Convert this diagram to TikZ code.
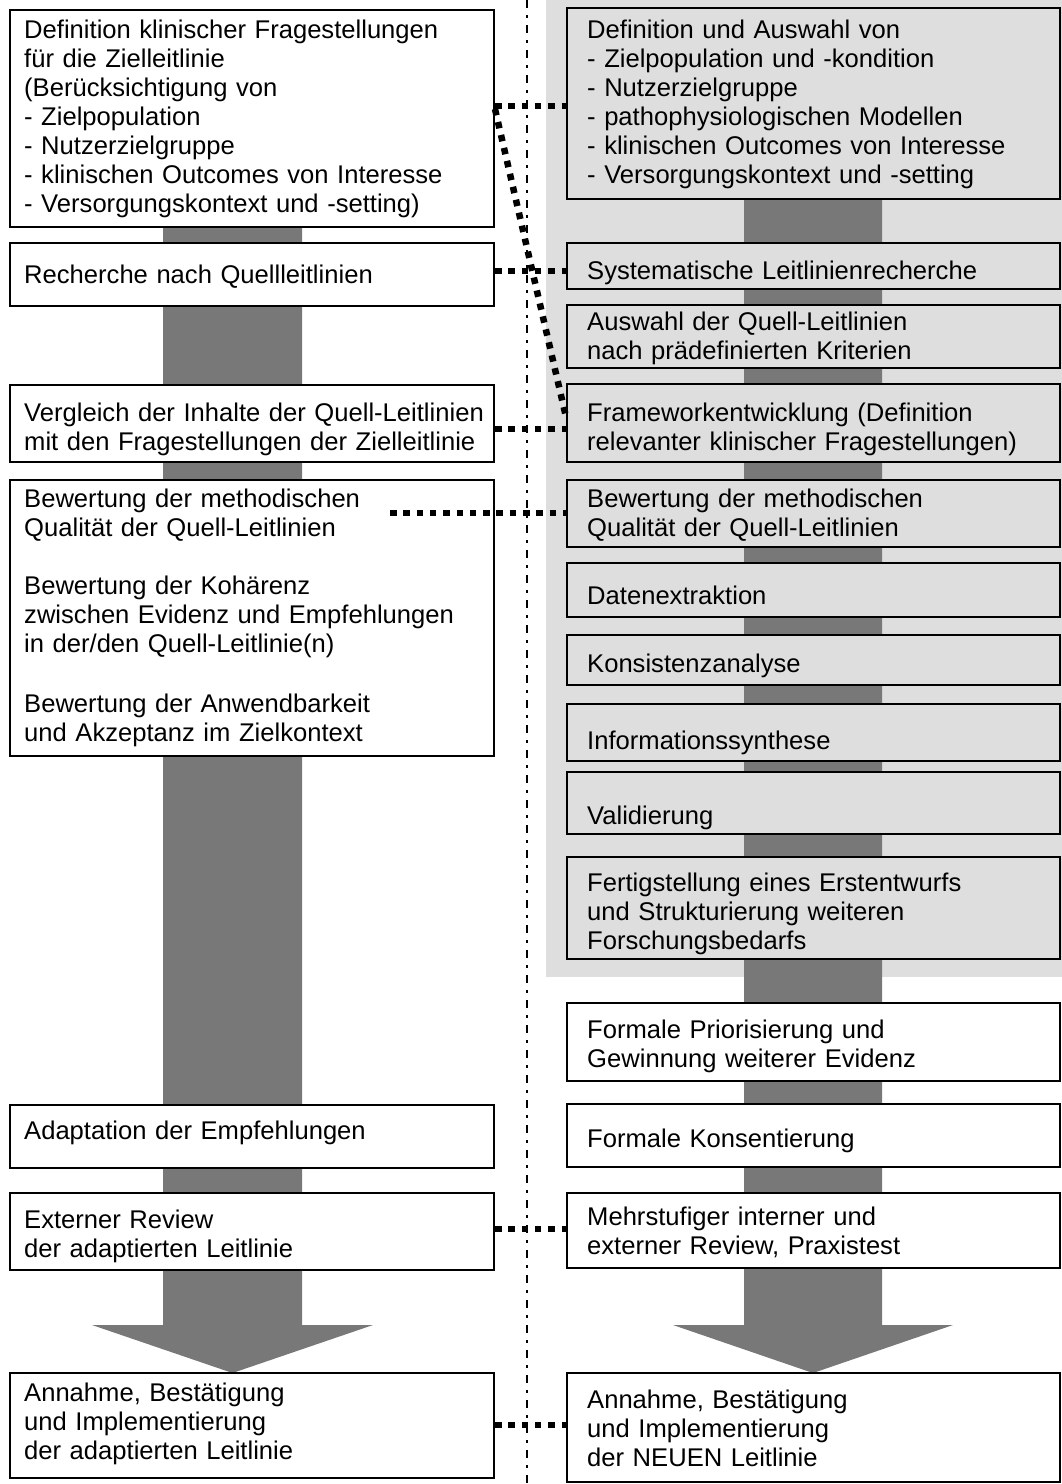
\documentclass[tikz,border=0pt]{standalone}
\usepackage{fontspec}
\setmainfont{Liberation Sans}
\usetikzlibrary{fit}
\definecolor{bgc}{RGB}{222,222,222}
\definecolor{arr}{RGB}{120,120,120}
\begin{document}
\begin{tikzpicture}[x=1pt,y=-1pt,
  box/.style={draw=black, line width=2pt, inner sep=0pt},
  wbox/.style={box, fill=white},
  gbox/.style={box, fill=bgc},
  txt/.style={font=\fontsize{25.6}{29.1}\selectfont, align=left, text width=470pt, inner sep=0pt, anchor=base west},
  conn/.style={line width=6.5pt, dash pattern=on 6.5pt off 6.8pt},
  axisline/.style={line width=2pt, dash pattern=on 8pt off 7pt on 3pt off 7pt},
  bigarrow/.style={fill=arr, draw=none}]
\useasboundingbox (0,0) rectangle (1062,1484);
% grey background of the right column
\fill[bgc] (546,0) rectangle (1062,977);
% big arrows
\fill[bigarrow] (163,200) -- (302,200) -- (302,1325) -- (373,1325) -- (232.5,1373) -- (92,1325) -- (163,1325) -- cycle;
\fill[bigarrow] (744,190) -- (882,190) -- (882,1325) -- (953,1325) -- (813,1373) -- (673,1325) -- (744,1325) -- cycle;

% left boxes
\node[wbox, fit={(10,10) (494,227)}] (L1) {};
\node[wbox, fit={(10,243) (494,306)}] (L2) {};
\node[wbox, fit={(10,385) (494,462)}] (L3) {};
\node[wbox, fit={(10,480) (494,756)}] (L4) {};
\node[wbox, fit={(10,1105) (494,1168)}] (L5) {};
\node[wbox, fit={(10,1193) (494,1270)}] (L6) {};
\node[wbox, fit={(10,1373) (494,1478)}] (L7) {};

\node[txt] (L1t) at (24,38) {Definition klinischer Fragestellungen\\für die Zielleitlinie\\(Berücksichtigung von\\- Zielpopulation\\- Nutzerzielgruppe\\- klinischen Outcomes von Interesse\\- Versorgungskontext und -setting)};
\node[txt] (L2t) at (24,283) {Recherche nach Quellleitlinien};
\node[txt] (L3t) at (24,421) {Vergleich der Inhalte der Quell-Leitlinien\\mit den Fragestellungen der Zielleitlinie};
\node[txt] (L4t) at (24,507) {Bewertung der methodischen\\Qualität der Quell-Leitlinien\\[29.2pt]Bewertung der Kohärenz\\zwischen Evidenz und Empfehlungen\\in der/den Quell-Leitlinie(n)\\[31pt]Bewertung der Anwendbarkeit\\und Akzeptanz im Zielkontext};
\node[txt] (L5t) at (24,1139) {Adaptation der Empfehlungen};
\node[txt] (L6t) at (24,1228) {Externer Review\\der adaptierten Leitlinie};
\node[txt] (L7t) at (24,1401) {Annahme, Bestätigung\\und Implementierung\\der adaptierten Leitlinie};

% right boxes
\node[gbox, fit={(567,8) (1060,199)}] (R1) {};
\node[gbox, fit={(567,243) (1060,289)}] (R2) {};
\node[gbox, fit={(567,305) (1060,368)}] (R3) {};
\node[gbox, fit={(567,384) (1060,462)}] (R4) {};
\node[gbox, fit={(567,480) (1060,547)}] (R5) {};
\node[gbox, fit={(567,563) (1060,617)}] (R6) {};
\node[gbox, fit={(567,635) (1060,685)}] (R7) {};
\node[gbox, fit={(567,704) (1060,761)}] (R8) {};
\node[gbox, fit={(567,772) (1060,834)}] (R9) {};
\node[gbox, fit={(567,857) (1060,959)}] (R10) {};
\node[wbox, fit={(567,1003) (1060,1081)}] (R11) {};
\node[wbox, fit={(567,1104) (1060,1167)}] (R12) {};
\node[wbox, fit={(567,1193) (1060,1268)}] (R13) {};
\node[wbox, fit={(567,1373) (1060,1482)}] (R14) {};

\node[txt] (R1t) at (587,38) {Definition und Auswahl von\\- Zielpopulation und -kondition\\- Nutzerzielgruppe\\- pathophysiologischen Modellen\\- klinischen Outcomes von Interesse\\- Versorgungskontext und -setting};
\node[txt] (R2t) at (587,279) {Systematische Leitlinienrecherche};
\node[txt] (R3t) at (587,330) {Auswahl der Quell-Leitlinien\\nach prädefinierten Kriterien};
\node[txt] (R4t) at (587,421) {Frameworkentwicklung (Definition\\relevanter klinischer Fragestellungen)};
\node[txt] (R5t) at (587,507) {Bewertung der methodischen\\Qualität der Quell-Leitlinien};
\node[txt] (R6t) at (587,604) {Datenextraktion};
\node[txt] (R7t) at (587,672) {Konsistenzanalyse};
\node[txt] (R8t) at (587,749) {Informationssynthese};
\node[txt] (R9t) at (587,824) {Validierung};
\node[txt] (R10t) at (587,891) {Fertigstellung eines Erstentwurfs\\und Strukturierung weiteren\\Forschungsbedarfs};
\node[txt] (R11t) at (587,1038) {Formale Priorisierung und\\Gewinnung weiterer Evidenz};
\node[txt] (R12t) at (587,1147) {Formale Konsentierung};
\node[txt] (R13t) at (587,1225) {Mehrstufiger interner und\\externer Review, Praxistest};
\node[txt] (R14t) at (587,1408) {Annahme, Bestätigung\\und Implementierung\\der NEUEN Leitlinie};

% dotted connectors
\draw[conn] (L1.east |- 0,106) -- (R1.west |- 0,106);
\draw[conn] (L1.east |- 0,109) -- (R4.west |- 0,417);
\draw[conn] (L2.east |- 0,271) -- (R2.west |- 0,271);
\draw[conn] (L3.east |- 0,429) -- (R4.west |- 0,429);
\coordinate (b0) at (390,513);
\draw[conn] (b0) -- (R5.west |- b0);
\draw[conn] (L6.east |- 0,1229) -- (R13.west |- 0,1229);
\draw[conn] (L7.east |- 0,1425) -- (R14.west |- 0,1425);

% vertical dash-dot separator
\draw[axisline] (527,0) -- (527,1484);
\end{tikzpicture}
\end{document}
